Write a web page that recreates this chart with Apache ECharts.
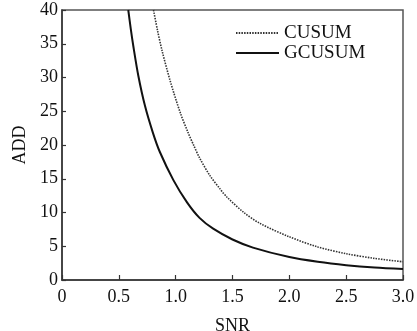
<!DOCTYPE html>
<html>
<head>
<meta charset="utf-8">
<script src="https://cdn.jsdelivr.net/npm/echarts@6/dist/echarts.min.js"></script>
<style>
  html, body { margin: 0; padding: 0; background: #fff; }
  #chart { width: 417px; height: 331px; }
</style>
</head>
<body>
<div id="chart"></div>
<script>
// values
var cusumSnr = [0.805, 0.84, 0.88, 0.95, 1.04, 1.11, 1.16, 1.21, 1.30, 1.39, 1.45, 1.60, 1.74, 2.00, 2.25, 2.50, 2.75, 3.00];
var cusumAdd = [40, 37, 34.0, 29.6, 24.8, 21.8, 19.9, 18.1, 15.5, 13.5, 12.3, 10.0, 8.4, 6.4, 4.9, 3.9, 3.2, 2.7];
var gcusumSnr = [0.583, 0.605, 0.627, 0.671, 0.73, 0.80, 0.86, 0.98, 1.10, 1.21, 1.33, 1.50, 1.68, 2.00, 2.25, 2.50, 2.75, 3.00];
var gcusumAdd = [40, 37.2, 34.7, 30.3, 25.8, 21.8, 19.0, 14.8, 11.5, 9.2, 7.6, 6.0, 4.8, 3.4, 2.7, 2.2, 1.85, 1.63];
var xTickLabels = ['0', '0.5', '1.0', '1.5', '2.0', '2.5', '3.0'];
var yTickLabels = ['0', '5', '10', '15', '20', '25', '30', '35', '40'];

function pairs(xs, ys) {
  return xs.map(function (x, i) { return [x, ys[i]]; });
}

var font = '"Liberation Serif", "Times New Roman", serif';
var axisColor = '#333';

var chart = echarts.init(document.getElementById('chart'));
chart.setOption({
  animation: false,
  textStyle: { fontFamily: font, color: '#111' },
  grid: {
    left: 62, right: 14, top: 10, bottom: 51,
    outerBoundsMode: 'none',
    show: true, borderColor: '#555', borderWidth: 1.5
  },
  legend: {
    orient: 'vertical',
    left: 230,
    top: 18,
    itemWidth: 43,
    itemHeight: 14,
    itemGap: 0,
    itemStyle: { opacity: 0 },
    textStyle: { fontFamily: font, fontSize: 19, color: '#111', lineHeight: 20 },
    data: ['CUSUM', 'GCUSUM']
  },
  xAxis: {
    type: 'value',
    min: 0, max: 3, interval: 0.5,
    name: 'SNR',
    nameLocation: 'middle',
    nameGap: 37,
    nameTextStyle: { fontFamily: font, fontSize: 18, color: '#111' },
    axisLine: { lineStyle: { color: axisColor, width: 1.5 } },
    axisTick: { inside: true, length: 5, lineStyle: { color: axisColor, width: 1.2 } },
    axisLabel: {
      fontFamily: font, fontSize: 18, color: '#111', margin: 8,
      formatter: function (v) { return xTickLabels[Math.round(v / 0.5)]; }
    },
    splitLine: { show: false }
  },
  yAxis: {
    type: 'value',
    min: 0, max: 40, interval: 5,
    name: 'ADD',
    nameLocation: 'middle',
    nameGap: 28,
    nameTextStyle: { fontFamily: font, fontSize: 18, color: '#111' },
    axisLine: { show: true, lineStyle: { color: axisColor, width: 1.5 } },
    axisTick: { show: true, inside: true, length: 4, lineStyle: { color: axisColor, width: 1.2 } },
    axisLabel: {
      fontFamily: font, fontSize: 18, color: '#111', margin: 4,
      formatter: function (v) { return yTickLabels[Math.round(v / 5)]; }
    },
    splitLine: { show: false }
  },
  series: [
    {
      name: 'CUSUM',
      type: 'line',
      data: pairs(cusumSnr, cusumAdd),
      smooth: 0.3,
      symbol: 'none',
      lineStyle: { color: '#333', width: 1.6, type: [1.5, 1.2] },
      itemStyle: { color: '#333' }
    },
    {
      name: 'GCUSUM',
      type: 'line',
      data: pairs(gcusumSnr, gcusumAdd),
      smooth: 0.3,
      symbol: 'none',
      lineStyle: { color: '#111', width: 2 },
      itemStyle: { color: '#111' }
    }
  ]
});
</script>
</body>
</html>
